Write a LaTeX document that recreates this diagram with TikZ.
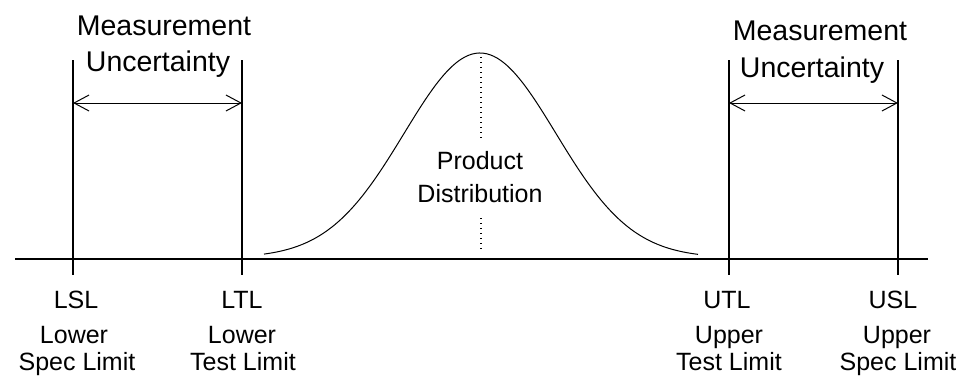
\documentclass[tikz,border=0pt]{standalone}
\usepackage{fontspec}
\setmainfont{Liberation Sans}
\usetikzlibrary{arrows.meta}
\begin{document}
\begin{tikzpicture}[x=1pt,y=-1pt,line width=1pt,
  lbl/.style={anchor=base,inner sep=0pt,font=\fontsize{25}{30}\selectfont},
  toplbl/.style={anchor=base,inner sep=0pt,font=\fontsize{28.5}{34}\selectfont},
  limitline/.style={line width=1.2pt},
  spanarrow/.style={{Straight Barb[length=15pt,width=16pt]}-{Straight Barb[length=15pt,width=16pt]},line width=1pt},
  dotline/.style={line width=1.2pt,dash pattern=on 1.3pt off 3.7pt}]
\useasboundingbox (0,0) rectangle (962,378);
% axis
\coordinate (axL) at (15,259);
\coordinate (axR) at (928,259);
\draw[limitline] (axL) -- (axR);
% limit lines
\coordinate (lslT) at (73,60);  \coordinate (lslB) at (73,275);
\coordinate (ltlT) at (242,60); \coordinate (ltlB) at (242,275);
\coordinate (utlT) at (729,60); \coordinate (utlB) at (729,275);
\coordinate (uslT) at (898,60); \coordinate (uslB) at (898,275);
\draw[limitline] (lslT) -- (lslB);
\draw[limitline] (ltlT) -- (ltlB);
\draw[limitline] (utlT) -- (utlB);
\draw[limitline] (uslT) -- (uslB);
% uncertainty arrows
\coordinate (muLa) at (73,103);  \coordinate (muLb) at (242,103);
\coordinate (muRa) at (729,103); \coordinate (muRb) at (898,103);
\draw[spanarrow] (muLa) -- (muLb);
\draw[spanarrow] (muRa) -- (muRb);
\node[toplbl] (mL1) at (164,35) {Measurement};
\node[toplbl] (mL2) at (158,71) {Uncertainty};
\node[toplbl] (mR1) at (820,40) {Measurement};
\node[toplbl] (mR2) at (812,77) {Uncertainty};
% distribution
\draw[line width=1pt] plot[domain=-216:218,samples=120,smooth]
  ({480+\x},{254-201*(exp(-0.5*(\x/76)*(\x/76))-0.018)/0.982});
\coordinate (dA) at (481,57);  \coordinate (dB) at (481,140);
\coordinate (dC) at (481,218); \coordinate (dD) at (481,252);
\draw[dotline] (dA) -- (dB);
\draw[dotline] (dC) -- (dD);
\node[lbl] (pd1) at (480,169) {Product};
\node[lbl] (pd2) at (480,202) {Distribution};
% bottom labels
\node[lbl] (lsl1) at (76,308) {LSL};
\node[lbl] (lsl2) at (74,343) {Lower};
\node[lbl] (lsl3) at (77,370) {Spec Limit};
\node[lbl] (ltl1) at (242,308) {LTL};
\node[lbl] (ltl2) at (242,343) {Lower};
\node[lbl] (ltl3) at (243,370) {Test Limit};
\node[lbl] (utl1) at (727,308) {UTL};
\node[lbl] (utl2) at (729,343) {Upper};
\node[lbl] (utl3) at (729,370) {Test Limit};
\node[lbl] (usl1) at (893,308) {USL};
\node[lbl] (usl2) at (897,343) {Upper};
\node[lbl] (usl3) at (898,370) {Spec Limit};
\end{tikzpicture}
\end{document}
